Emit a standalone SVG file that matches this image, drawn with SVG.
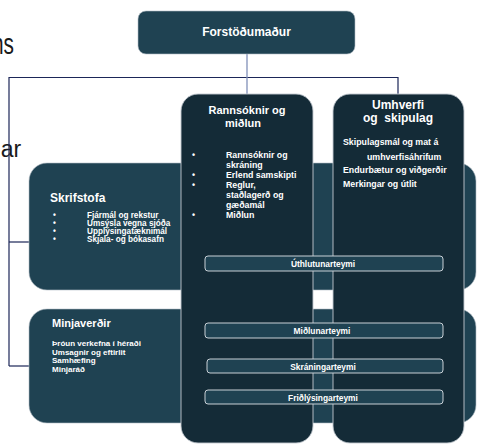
<svg xmlns="http://www.w3.org/2000/svg" width="478" height="445" viewBox="0 0 478 445">
<style>
text{font-family:"Liberation Sans",Arial,sans-serif;font-weight:bold;fill:#fff}
.bg{font-weight:normal;fill:#1a1a1a}
.dark{fill:#142b37;stroke:#c3cad0;stroke-width:0.9}
.mid{fill:#1f4252;stroke:#b4bec6;stroke-width:0.6}
.bar{fill:#1f4252;stroke:#c8d0d6;stroke-width:1}
.line{stroke:#1b2658;stroke-width:1.2;fill:none}
.t12{font-size:12px}
.t11{font-size:11px}
.t9{font-size:8.8px}
.s8{font-size:8.2px}
.m8{font-size:8px}
.t8{font-size:8.4px}
.c{text-anchor:middle}
</style>
<rect width="478" height="445" fill="#fff"/>
<text class="bg" x="-8" y="54" font-size="30" textLength="22" lengthAdjust="spacingAndGlyphs">ns</text>
<text class="bg" x="-12" y="157" font-size="23">nar</text>
<g id="connectors">
<path class="line" d="M9,77.5H398V94"/>
<path class="line" d="M9,77V366"/>
<path class="line" d="M9,242H29"/>
<path class="line" d="M9,366H29"/>
<path d="M247,54V94" stroke="#8090b8" stroke-width="1.3" fill="none"/>
</g>
<g id="forstodumadur">
<rect class="mid" x="138" y="11" width="217" height="43" rx="8"/>
<text class="t12 c" x="246.5" y="36">Forstöðumaður</text>
</g>
<g id="skrifstofa">
<rect class="mid" x="29" y="163" width="447" height="127" rx="18"/>
<text class="t12" x="50" y="202">Skrifstofa</text>
<text class="s8" x="53" y="218">•</text><text class="s8" x="87" y="218">Fjármál  og rekstur</text>
<text class="s8" x="53" y="226">•</text><text class="s8" x="87" y="226">Umsýsla vegna sjóða</text>
<text class="s8" x="53" y="234">•</text><text class="s8" x="87" y="234">Upplýsingatæknimál</text>
<text class="s8" x="53" y="242">•</text><text class="s8" x="87" y="242">Skjala- og bókasafn</text>
</g>
<g id="minjaverdir">
<rect class="mid" x="29" y="309" width="447" height="114" rx="18"/>
<text class="t11" x="52" y="327">Minjaverðir</text>
<text class="m8" x="52" y="346">Þróun verkefna í héraði</text>
<text class="m8" x="52" y="354.5">Umsagnir og eftirlit</text>
<text class="m8" x="52" y="363">Samhæfing</text>
<text class="m8" x="52" y="371.5">Minjaráð</text>
</g>
<g id="rannsoknir">
<rect class="dark" x="181" y="94" width="132" height="349" rx="17"/>
<text class="t11 c" x="247" y="114">Rannsóknir og</text>
<text class="t11 c" x="243" y="127">miðlun</text>
<text class="t9" x="192" y="158">•</text><text class="t9" x="226" y="158">Rannsóknir og</text>
<text class="t9" x="226" y="168">skráning</text>
<text class="t9" x="192" y="178">•</text><text class="t9" x="226" y="178">Erlend samskipti</text>
<text class="t9" x="192" y="188">•</text><text class="t9" x="226" y="188">Reglur,</text>
<text class="t9" x="226" y="198">staðlagerð og</text>
<text class="t9" x="226" y="208">gæðamál</text>
<text class="t9" x="192" y="218">•</text><text class="t9" x="226" y="218">Miðlun</text>
</g>
<g id="umhverfi">
<rect class="dark" x="333" y="94" width="131" height="349" rx="17"/>
<text class="t12 c" x="398" y="109">Umhverfi</text>
<text class="t12 c" x="398" y="122" xml:space="preserve">og  skipulag</text>
<text class="t9" x="343" y="145">Skipulagsmál og mat á</text>
<text class="t9" x="367" y="159.5">umhverfisáhrifum</text>
<text class="t9" x="343" y="173">Endurbætur og viðgerðir</text>
<text class="t9" x="343" y="187">Merkingar og útlit</text>
</g>
<g id="uthlutunarteymi">
<rect class="bar" x="205" y="256" width="238" height="15" rx="3"/>
<text class="t8 c" x="323" y="267">Úthlutunarteymi</text>
</g>
<g id="midlunarteymi">
<rect class="bar" x="205" y="323" width="238" height="15" rx="3"/>
<text class="t8 c" x="322" y="334">Miðlunarteymi</text>
</g>
<g id="skraningarteymi">
<rect class="bar" x="207" y="359" width="236" height="14" rx="3"/>
<text class="t8 c" x="323" y="369.5">Skráningarteymi</text>
</g>
<g id="fridlysingarteymi">
<rect class="bar" x="205" y="390" width="238" height="14" rx="3"/>
<text class="t8 c" x="323" y="400.5">Friðlýsingarteymi</text>
</g>
</svg>
